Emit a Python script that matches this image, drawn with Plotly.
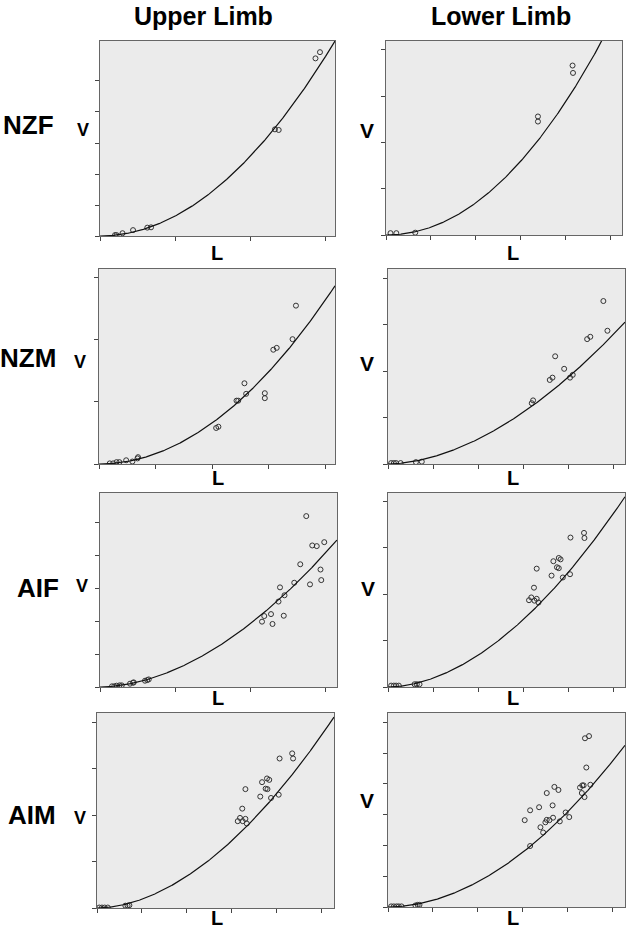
import numpy as np
import plotly.graph_objects as go

W, H = 626, 932

# ---------------- data (arbitrary units) ----------------
column_titles = ["Upper Limb", "Lower Limb"]
row_labels = ["NZF", "NZM", "AIF", "AIM"]

nzf_upper_L = [0.20, 0.22, 0.30, 0.44, 0.63, 0.68, 2.33, 2.38, 2.87, 2.93]
nzf_upper_V = [0.03, 0.03, 0.09, 0.19, 0.27, 0.28, 3.44, 3.42, 5.73, 5.93]

nzf_lower_L = [0.10, 0.23, 0.65, 3.38, 3.38, 4.15, 4.16]
nzf_lower_V = [0.04, 0.04, 0.05, 2.56, 2.45, 3.66, 3.50]

nzm_upper_L = [0.19, 0.25, 0.31, 0.36, 0.48, 0.59, 0.68, 0.69, 2.07, 2.11, 2.43, 2.46,
               2.60, 2.57, 2.93, 2.93, 3.08, 3.14, 3.42, 3.48]
nzm_upper_V = [0.01, 0.01, 0.03, 0.03, 0.06, 0.04, 0.09, 0.11, 0.58, 0.60, 1.02, 1.02,
               1.13, 1.30, 1.14, 1.06, 1.84, 1.87, 2.01, 2.55]

nzm_lower_L = [0.07, 0.13, 0.18, 0.28, 0.62, 0.75, 3.19, 3.22, 3.59, 3.65, 3.71, 3.91,
               4.04, 4.10, 4.42, 4.49, 4.78, 4.87]
nzm_lower_V = [0.02, 0.02, 0.02, 0.02, 0.04, 0.05, 1.31, 1.37, 1.81, 1.86, 2.32, 2.05,
               1.86, 1.92, 2.69, 2.74, 3.51, 2.87]

aif_upper_L = [0.16, 0.19, 0.22, 0.26, 0.29, 0.40, 0.44, 0.45, 0.60, 0.63, 0.65,
               2.16, 2.19, 2.28, 2.30, 2.38, 2.40, 2.45, 2.46, 2.59, 2.67, 2.75, 2.80,
               2.83, 2.89, 2.94, 2.95, 2.99]
aif_upper_V = [0.02, 0.02, 0.04, 0.05, 0.05, 0.10, 0.13, 0.14, 0.19, 0.21, 0.23,
               1.98, 2.15, 2.21, 1.91, 2.59, 3.02, 2.16, 2.78, 3.16, 3.72, 5.18, 3.11,
               4.29, 4.27, 3.56, 3.24, 4.39]

aif_lower_L = [0.07, 0.13, 0.18, 0.24, 0.59, 0.64, 0.70, 3.13, 3.18, 3.24, 3.25, 3.30,
               3.34, 3.30, 3.63, 3.67, 3.75, 3.79, 3.79, 3.83, 3.88, 4.04, 4.05, 4.35, 4.36]
aif_lower_V = [0.03, 0.03, 0.03, 0.03, 0.06, 0.06, 0.06, 1.87, 1.93, 2.14, 1.86, 1.90,
               1.82, 2.55, 2.40, 2.71, 2.58, 2.56, 2.78, 2.75, 2.36, 2.43, 3.22, 3.32, 3.21]

aim_upper_L = [0.05, 0.11, 0.17, 0.24, 0.63, 0.68, 0.72, 3.13, 3.18, 3.23, 3.24, 3.30,
               3.33, 3.30, 3.63, 3.67, 3.75, 3.79, 3.78, 3.83, 3.87, 4.04, 4.06, 4.34, 4.36]
aim_upper_V = [0.01, 0.01, 0.01, 0.01, 0.05, 0.05, 0.06, 1.87, 1.94, 2.14, 1.87, 1.92,
               1.82, 2.56, 2.40, 2.71, 2.57, 2.56, 2.79, 2.76, 2.37, 2.44, 3.22, 3.33, 3.22]

aim_lower_L = [0.07, 0.13, 0.19, 0.24, 0.30, 0.61, 0.66, 0.70,
               3.04, 3.16, 3.16, 3.36, 3.39, 3.45, 3.50, 3.53, 3.59, 3.53, 3.66, 3.67,
               3.70, 3.79, 3.82, 3.95, 4.03, 4.27, 4.32, 4.35, 4.31, 4.37, 4.41, 4.38,
               4.47, 4.50]
aim_lower_V = [0.02, 0.02, 0.02, 0.02, 0.02, 0.05, 0.07, 0.07,
               2.82, 3.14, 1.98, 3.24, 2.59, 2.42, 2.75, 2.83, 2.82, 3.70, 3.30, 2.90,
               3.90, 3.80, 2.78, 3.07, 2.92, 3.88, 3.95, 3.95, 3.70, 3.57, 4.53, 5.48,
               5.55, 3.97]

# fitted power curves  V = a * L^b  (one per panel)
fit_a = [0.642, 0.168, 0.165, 0.154, 0.53, 0.19, 0.19, 0.216]
fit_b = [2.00, 2.05, 2.00, 1.80, 1.85, 1.85, 1.85, 1.92]

panels_L = [nzf_upper_L, nzf_lower_L, nzm_upper_L, nzm_lower_L,
            aif_upper_L, aif_lower_L, aim_upper_L, aim_lower_L]
panels_V = [nzf_upper_V, nzf_lower_V, nzm_upper_V, nzm_lower_V,
            aif_upper_V, aif_lower_V, aim_upper_V, aim_lower_V]

# ---------------- layout config ----------------
# plot boxes in pixels: (left, right, top, bottom)
boxes = [(100, 335, 41, 236), (386, 622, 41, 235),
         (99, 335, 269, 464), (388, 625, 269, 464),
         (100, 337, 493, 687), (388, 625, 493, 687),
         (97, 334, 713, 908), (388, 625, 713, 907)]
x_max = [3.13, 5.25, 4.17, 5.26, 3.16, 5.26, 5.27, 5.27]
y_max = [6.29, 4.19, 3.14, 4.20, 5.88, 4.18, 4.20, 6.30]
x_nticks = [3, 5, 4, 5, 3, 5, 5, 5]
y_nticks = [5, 4, 3, 4, 5, 4, 4, 6]


def px(x):
    return x / W


def py(y):
    return 1 - y / H


fig = go.Figure()
layout_axes = {}
for i in range(8):
    n = i + 1
    xa = "x" if n == 1 else f"x{n}"
    ya = "y" if n == 1 else f"y{n}"
    L = panels_L[i]
    V = panels_V[i]
    fig.add_trace(go.Scatter(
        x=L, y=V, mode="markers", xaxis=xa, yaxis=ya, showlegend=False,
        marker=dict(symbol="circle-open", size=5, color="#333333", line=dict(width=1)),
    ))
    xs = np.linspace(0, x_max[i], 300)
    ys = fit_a[i] * xs ** fit_b[i]
    fig.add_trace(go.Scatter(
        x=xs, y=ys, mode="lines", xaxis=xa, yaxis=ya, showlegend=False,
        line=dict(color="#111111", width=1.2),
    ))
    l, r, t, b = boxes[i]
    common = dict(showgrid=False, zeroline=False, showline=True, linecolor="#666666",
                  linewidth=1, mirror=True, ticks="outside", ticklen=4, tickwidth=1,
                  tickcolor="#444444", showticklabels=False, fixedrange=True)
    layout_axes["xaxis" if n == 1 else f"xaxis{n}"] = dict(
        domain=[px(l), px(r)], anchor=ya, range=[0, x_max[i]],
        tickvals=list(range(0, x_nticks[i] + 1)), **common)
    layout_axes["yaxis" if n == 1 else f"yaxis{n}"] = dict(
        domain=[py(b), py(t)], anchor=xa, range=[0, y_max[i]],
        tickvals=list(range(0, y_nticks[i] + 1)), **common)

fig.update_layout(**layout_axes)

font_family = "Liberation Sans, Arial, sans-serif"
ann = []
# column titles
for txt, xc in zip(column_titles, [203, 501]):
    ann.append(dict(text=f"<b>{txt}</b>", x=px(xc), y=py(16), xref="paper", yref="paper",
                    showarrow=False, xanchor="center", yanchor="middle",
                    font=dict(family=font_family, size=25, color="black")))
# row labels
for txt, xc, yc in zip(row_labels, [28, 28, 38, 32], [125, 358, 588, 815]):
    ann.append(dict(text=f"<b>{txt}</b>", x=px(xc), y=py(yc), xref="paper", yref="paper",
                    showarrow=False, xanchor="center", yanchor="middle",
                    font=dict(family=font_family, size=26, color="black")))
# V axis labels
for xc, yc, sz in [(83, 130, 18), (367, 130, 21), (80, 362, 18), (367, 363, 21),
                   (82, 586, 18), (368, 588, 21), (80, 818, 18), (367, 800, 21)]:
    ann.append(dict(text="<b>V</b>", x=px(xc), y=py(yc), xref="paper", yref="paper",
                    showarrow=False, xanchor="center", yanchor="middle",
                    font=dict(family=font_family, size=sz, color="black")))
# L axis labels
for xc, yc in [(217, 253), (513, 253), (218, 478), (513, 478),
               (218, 698), (513, 698), (217, 918), (513, 918)]:
    ann.append(dict(text="<b>L</b>", x=px(xc), y=py(yc), xref="paper", yref="paper",
                    showarrow=False, xanchor="center", yanchor="middle",
                    font=dict(family=font_family, size=20, color="black")))

fig.update_layout(
    width=W, height=H, margin=dict(l=0, r=0, t=0, b=0),
    paper_bgcolor="white", plot_bgcolor="#ebebeb",
    annotations=ann, showlegend=False,
)

fig.write_html(
    "out.html",
    config={"displayModeBar": False, "staticPlot": True},
    post_script="document.body.style.margin='0';document.body.style.overflow='hidden';",
)
